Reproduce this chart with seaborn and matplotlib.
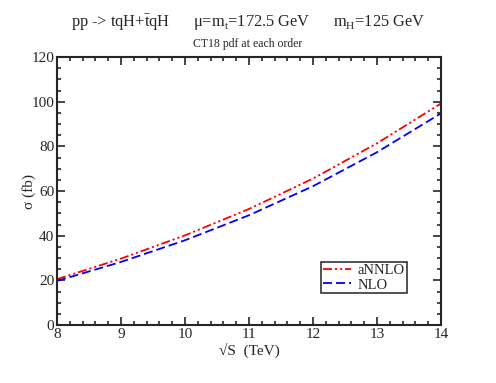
import numpy as np
import pandas as pd
import matplotlib
matplotlib.use("Agg")
import matplotlib.pyplot as plt
from matplotlib.ticker import MultipleLocator
import seaborn as sns

# data
energies = [8, 9, 10, 11, 12, 13, 14]
sigma_annlo = [20.6, 29.8, 40.2, 52.0, 65.6, 81.4, 99.2]
sigma_nlo = [19.8, 28.3, 38.0, 49.2, 62.2, 77.4, 94.8]

df = pd.DataFrame({
    "sqrtS": energies * 2,
    "sigma": sigma_annlo + sigma_nlo,
    "order": ["aNNLO"] * len(energies) + ["NLO"] * len(energies),
})

sns.set_style("ticks")
plt.rcParams["font.family"] = ["Liberation Serif", "DejaVu Serif"]
plt.rcParams["mathtext.fontset"] = "custom"
plt.rcParams["mathtext.rm"] = "Liberation Serif"
plt.rcParams["mathtext.it"] = "Liberation Serif:italic"

fig = plt.figure(figsize=(4.96, 3.83), dpi=100)
ax = fig.add_axes([0.115, 0.151, 0.774, 0.700])

sns.lineplot(data=df, x="sqrtS", y="sigma", hue="order", style="order",
             palette={"aNNLO": "red", "NLO": "blue"},
             dashes={"aNNLO": (5, 1.6, 1.2, 1.6, 1.2, 1.6), "NLO": (5, 2.2)},
             linewidth=1.3, ax=ax)

ax.set_xlim(8, 14)
ax.set_ylim(0, 120)
ax.xaxis.set_major_locator(MultipleLocator(1))
ax.xaxis.set_minor_locator(MultipleLocator(0.2))
ax.yaxis.set_major_locator(MultipleLocator(20))
ax.yaxis.set_minor_locator(MultipleLocator(5))
ax.tick_params(which="both", direction="in", top=True, right=True, width=1.2,
               labelsize=11, pad=2)
ax.tick_params(which="major", length=6)
ax.tick_params(which="minor", length=3)
for s in ax.spines.values():
    s.set_linewidth(1.5)

ax.set_xlabel("\u221aS  (TeV)", fontsize=11, labelpad=1)
ax.set_ylabel("\u03c3 (fb)", fontsize=11)
ax.yaxis.set_label_coords(-0.055, 0.5)

leg = ax.legend(loc="lower right", bbox_to_anchor=(0.911, 0.119),
                borderaxespad=0, fontsize=10.5, frameon=True, fancybox=False,
                handlelength=1.9, labelspacing=0.1, borderpad=0.12,
                handletextpad=0.5)
leg.get_frame().set_edgecolor("black")
leg.get_frame().set_linewidth(1.2)

fig.text(0.5, 0.942,
         r"pp -> tqH+$\bar{\mathrm{t}}$qH      $\mathrm{\mu}$=m$_\mathrm{t}$=172.5 GeV      m$_\mathrm{H}$=125 GeV",
         ha="center", va="center", fontsize=11.8)
fig.text(0.5, 0.885, "CT18 pdf at each order", ha="center", va="center",
         fontsize=8.5)

fig.savefig("out.png", dpi=100)
